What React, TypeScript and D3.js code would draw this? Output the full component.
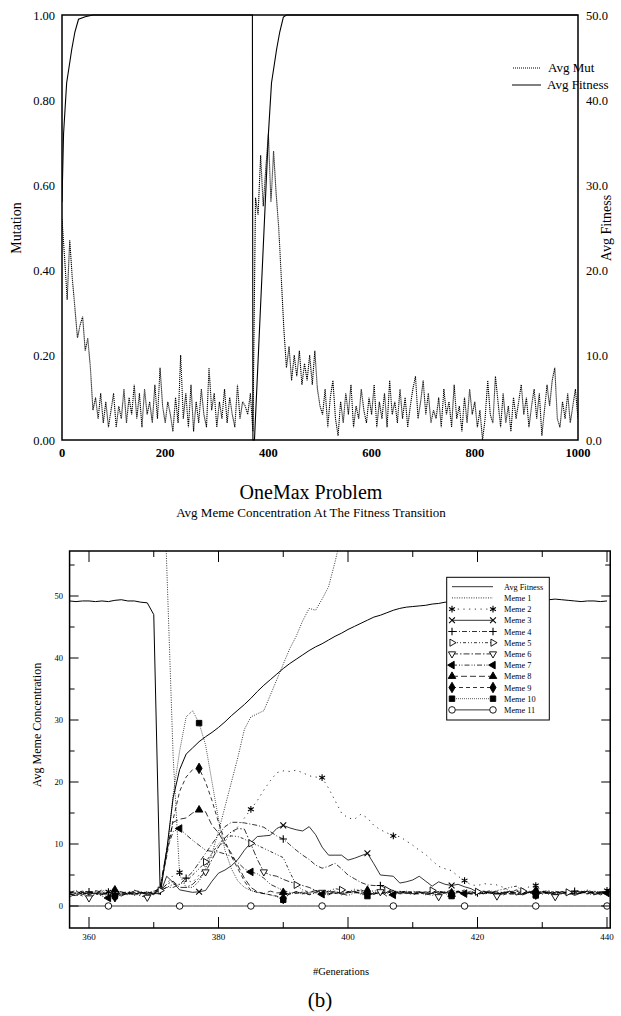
import React, { useRef, useEffect } from 'react';
import * as d3 from 'd3';

// ---------- top panel: avg mutation and avg fitness over 1000 generations
const mutGens = d3.range(0, 1001, 5);
const mutValues = [
  0.52, 0.43, 0.33, 0.47, 0.38, 0.31, 0.24, 0.27, 0.29, 0.21,
  0.24, 0.17, 0.07, 0.1, 0.05, 0.11, 0.04, 0.09, 0.03, 0.07,
  0.11, 0.03, 0.08, 0.05, 0.12, 0.04, 0.1, 0.06, 0.13, 0.05,
  0.11, 0.03, 0.12, 0.06, 0.09, 0.04, 0.13, 0.05, 0.17, 0.08,
  0.04, 0.09, 0.06, 0.02, 0.1, 0.04, 0.2, 0.05, 0.11, 0.03,
  0.13, 0.02, 0.09, 0.04, 0.12, 0.06, 0.03, 0.17, 0.07, 0.11,
  0.03, 0.09, 0.05, 0.12, 0.04, 0.1, 0.06, 0.03, 0.13, 0.05,
  0.09, 0.08, 0.06, 0.11, 0.02, 0.57, 0.53, 0.67, 0.55, 0.64,
  0.72, 0.56, 0.68, 0.58, 0.5, 0.38, 0.26, 0.17, 0.22, 0.14,
  0.2, 0.15, 0.21, 0.13, 0.18, 0.14, 0.2, 0.13, 0.21, 0.12,
  0.08, 0.06, 0.12, 0.03, 0.1, 0.14, 0.05, 0.01, 0.09, 0.04,
  0.11, 0.06, 0.13, 0.03, 0.08, 0.05, 0.12, 0.07, 0.04, 0.1,
  0.06, 0.13, 0.03, 0.09, 0.05, 0.11, 0.03, 0.14, 0.06, 0.09,
  0.04, 0.12, 0.05, 0.1, 0.03, 0.08, 0.12, 0.15, 0.05, 0.09,
  0.14, 0.06, 0.11, 0.04, 0.07, 0.05, 0.1, 0.03, 0.12, 0.06,
  0.09, 0.03, 0.13, 0.05, 0.08, 0.02, 0.1, 0.04, 0.12, 0.06,
  0.09, 0.03, 0.07, 0.0, 0.05, 0.14, 0.06, 0.04, 0.15, 0.09,
  0.03, 0.11, 0.04, 0.08, 0.02, 0.1, 0.05, 0.09, 0.13, 0.06,
  0.1, 0.03, 0.08, 0.12, 0.05, 0.11, 0.01, 0.07, 0.13, 0.08,
  0.14, 0.17, 0.05, 0.03, 0.09, 0.05, 0.11, 0.04, 0.08, 0.12,
  0.05,
];
const fitGensTop = [0, 3, 9, 19, 25, 32, 45, 60, 369, 370, 373, 400, 406, 416, 422, 429, 435, 1000];
const fitValuesTop = [28, 36, 42, 46, 48, 49.5, 49.8, 50, 50, 0, 0, 36, 42, 46, 48, 49.75, 50, 50];
const mutTicks = [0, 0.2, 0.4, 0.6, 0.8, 1.0];
const fitTicks = [0, 10, 20, 30, 40, 50];
const genTicksTop = [0, 200, 400, 600, 800, 1000];

// ---------- bottom panel: meme concentration around the transition
const memeGens = d3.range(357, 441);
const avgFitness = [
  49.2, 49.1, 49.2, 49.2, 49.1, 49.2, 49.1, 49.3, 49.4, 49.2, 49.2, 49.0, 48.9, 47.0,
  1.8, 9.0, 17.5, 22.0, 24.5, 25.5, 26.5, 27.3, 28.0, 28.8,
  29.7, 30.7, 31.6, 32.5, 33.5, 34.6, 35.6, 36.5, 37.4, 38.3,
  39.1, 39.8, 40.5, 41.2, 41.8, 42.3, 42.9, 43.5, 44.0, 44.6,
  45.1, 45.6, 46.1, 46.6, 46.9, 47.3, 47.7, 48.0, 48.2, 48.3,
  48.4, 48.5, 48.7, 48.8, 49.0, 49.0, 49.1, 49.1, 49.2, 49.2,
  49.2, 49.3, 49.3, 49.2, 49.2, 49.3, 49.4, 49.4, 49.4, 49.4,
  49.4, 49.5, 49.4, 49.3, 49.2, 49.1, 49.2, 49.2, 49.1, 49.2,
];
const meme1 = [
  86, 86, 86, 86, 86, 86, 86, 86, 86, 86, 86, 86, 86, 86,
  86, 55, 24, 5, 3, 3, 4, 6, 8.5, 12,
  16, 20, 24, 28.5, 30.5, 31, 31.5, 34, 36.5, 39,
  41.5, 43.5, 46, 48, 47.7, 49.5, 51.5, 55.5, 60, 66,
  72, 78, 83, 86, 88, 89, 90, 90, 91, 91,
  92, 92, 92, 93, 93, 93, 93, 94, 94, 94,
  94, 94, 94, 95, 95, 95, 95, 95, 95, 95,
  95, 95, 95, 95, 95, 95, 95, 95, 95, 95,
];
const meme2 = [
  2.3, 2.0, 2.5, 2.2, 1.9, 2.4, 2.3, 2.1, 1.8, 2.2, 2.6, 2.0, 2.3, 2.1,
  2.5, 3.5, 5.0, 5.4, 4.2, 3.8, 5.0, 6.5, 8.0, 9.5,
  10.5, 11.5, 12.8, 14.2, 15.6, 17.0, 18.7, 20.2, 21.5, 21.8,
  21.7, 21.9, 21.5, 21.0, 20.8, 20.7, 19.0, 17.0, 15.0, 14.2,
  14.0, 14.8, 14.2, 13.0, 12.3, 11.8, 11.3, 11.2, 10.5, 9.8,
  9.0, 8.3, 7.3, 6.4, 6.0, 5.7, 4.8, 4.1, 3.4, 3.3,
  3.6, 3.5, 3.4, 3.0, 2.4, 2.3, 2.7, 3.1, 3.3, 2.5,
  1.9, 2.2, 2.0, 1.8, 2.3, 2.1, 1.9, 2.4, 2.2, 2.5,
];
const meme3 = [
  2.0, 1.7, 2.2, 1.9, 2.1, 1.8, 2.3, 2.0, 1.6, 2.1, 1.9, 2.2, 1.8, 2.0,
  2.0, 4.8, 3.8, 2.6, 2.4, 2.2, 2.3, 2.5, 4.0, 5.3,
  5.8, 6.5, 7.5, 9.0, 10.2, 11.2, 11.3, 11.4, 12.5, 13.0,
  12.6, 12.3, 12.1, 12.8, 11.5, 9.5, 8.2, 8.2, 8.2, 7.4,
  7.7, 8.1, 8.5, 6.8, 5.0, 4.9, 4.8, 3.7, 3.9, 4.2,
  4.8, 4.0, 3.2, 3.9, 3.5, 3.3, 3.5, 3.1, 2.8, 2.2,
  2.0, 2.3, 1.9, 2.1, 2.4, 1.8, 2.0, 2.2, 1.9, 2.1,
  2.3, 1.8, 2.0, 2.2, 1.7, 2.1, 2.4, 1.9, 2.0, 2.2,
];
const meme4 = [
  2.2, 2.5, 1.9, 2.3, 2.0, 2.6, 2.1, 2.4, 2.2, 1.9, 2.5, 2.3, 2.0, 2.4,
  2.5, 3.0, 3.0, 3.5, 4.5, 5.5, 7.0, 8.5, 10.0, 11.5,
  12.8, 13.5, 13.5, 13.4, 13.2, 13.0, 12.7, 12.0, 11.3, 10.8,
  9.9, 9.0, 8.2, 7.5, 6.6, 6.1, 6.4, 6.9, 6.0, 5.0,
  4.4, 3.8, 3.4, 3.3, 3.3, 2.8, 2.5, 2.2, 2.4, 2.0,
  2.3, 2.1, 2.5, 2.0, 2.2, 2.6, 2.3, 1.9, 2.4, 2.1,
  2.2, 2.5, 2.0, 2.3, 2.1, 2.6, 2.2, 2.4, 2.0, 2.3,
  2.5, 2.1, 2.3, 2.0, 2.4, 2.2, 2.6, 2.1, 2.3, 2.4,
];
const meme5 = [
  1.8, 2.1, 1.6, 2.0, 2.3, 1.9, 1.7, 2.2, 2.0, 1.8, 2.1, 1.9, 2.2, 2.0,
  2.5, 3.0, 3.5, 3.5, 4.0, 5.0, 6.0, 7.1, 8.5, 10.0,
  11.0, 11.3, 11.2, 10.8, 10.1, 9.8, 9.3, 8.8, 8.3, 7.8,
  5.5, 3.4, 2.6, 2.2, 2.5, 2.0, 2.4, 2.8, 2.6, 2.3,
  2.7, 2.4, 2.1, 2.5, 2.2, 2.6, 2.0, 2.3, 2.1, 2.4,
  2.2, 2.0, 2.5, 2.3, 2.1, 2.4, 2.2, 2.6, 2.0, 2.3,
  2.4, 2.1, 2.5, 2.7, 3.0, 3.2, 2.4, 2.2, 2.0, 2.3,
  2.1, 2.4, 2.0, 2.2, 2.5, 2.3, 2.1, 2.4, 2.2, 2.0,
];
const meme6 = [
  2.0, 1.6, 2.2, 1.3, 1.9, 2.1, 1.7, 2.3, 1.8, 2.0, 2.2, 1.6, 1.4, 2.1,
  2.5, 3.5, 4.0, 3.0, 3.0, 3.5, 4.5, 5.5, 7.5, 9.5,
  11.0, 12.0, 12.5, 12.4, 10.0, 7.5, 5.5, 5.0, 4.8, 4.3,
  3.9, 3.6, 3.3, 3.0, 2.5, 2.2, 2.4, 2.0, 2.3, 2.1,
  2.4, 2.6, 2.2, 1.9, 2.3, 1.6, 2.1, 2.4, 2.0, 2.2,
  2.3, 1.9, 2.1, 1.5, 2.2, 2.0, 2.4, 1.8, 2.1, 2.3,
  1.9, 2.2, 1.6, 2.0, 2.3, 2.1, 1.8, 2.2, 2.0, 2.4,
  2.1, 1.5, 2.0, 2.3, 1.9, 2.2, 2.0, 2.4, 1.8, 2.1,
];
const meme7 = [
  1.5, 1.9, 2.2, 1.8, 2.0, 1.6, 1.3, 2.1, 1.9, 2.2, 1.7, 2.0, 2.3, 1.8,
  3.0, 9.0, 12.0, 12.5, 11.5, 10.6, 9.8, 9.0, 8.8, 8.7,
  8.4, 8.0, 7.0, 6.0, 5.5, 5.2, 4.5, 3.5, 3.0, 2.5,
  2.2, 2.0, 2.3, 1.8, 2.1, 1.9, 2.2, 2.4, 2.0, 1.7,
  2.1, 2.3, 1.9, 2.2, 2.0, 2.4, 1.8, 2.1, 2.3, 1.9,
  2.2, 2.0, 1.7, 2.1, 2.3, 1.9, 2.2, 2.0, 2.4, 1.8,
  2.1, 2.3, 1.9, 2.2, 2.0, 1.8, 2.2, 2.1, 2.3, 1.9,
  2.2, 2.0, 2.3, 1.9, 2.1, 2.4, 2.0, 1.8, 2.2, 2.1,
];
const meme8 = [
  2.3, 2.0, 2.4, 2.1, 2.5, 2.2, 1.9, 2.6, 2.3, 2.0, 2.4, 2.2, 2.1, 2.3,
  3.0, 9.0, 13.5, 14.0, 14.2, 15.0, 15.5, 15.2, 13.0, 11.8,
  10.0, 8.5, 6.5, 4.5, 3.0, 2.3, 2.0, 2.4, 2.1, 2.2,
  1.9, 2.3, 2.0, 2.2, 2.5, 2.1, 1.8, 2.3, 2.0, 2.2,
  2.4, 2.0, 2.2, 1.9, 2.3, 2.1, 2.5, 2.0, 2.2, 1.8,
  2.1, 2.3, 2.0, 2.4, 2.2, 1.9, 2.3, 2.1, 2.0, 2.2,
  2.3, 2.0, 2.4, 2.1, 1.9, 2.2, 2.0, 2.3, 2.5, 2.1,
  2.0, 2.2, 2.4, 1.9, 2.1, 2.3, 2.0, 2.2, 2.1, 2.4,
];
const meme9 = [
  2.1, 2.4, 1.9, 2.2, 2.0, 2.3, 1.7, 1.5, 2.1, 2.3, 1.9, 2.2, 2.0, 2.1,
  3.0, 8.0, 14.0, 18.5, 20.8, 22.0, 22.2, 20.0, 17.0, 13.5,
  10.5, 8.0, 6.0, 4.0, 2.5, 2.2, 2.0, 1.8, 1.6, 1.2,
  2.0, 2.3, 2.1, 1.9, 2.2, 2.4, 2.0, 2.1, 1.8, 2.3,
  2.2, 2.0, 2.4, 2.1, 1.9, 2.3, 2.0, 2.2, 2.4, 2.1,
  1.9, 2.2, 2.0, 2.3, 2.1, 2.0, 2.4, 2.2, 1.9, 2.1,
  2.3, 2.0, 2.2, 1.8, 2.1, 2.4, 2.0, 2.2, 1.9, 2.3,
  2.1, 2.0, 2.3, 2.2, 1.9, 2.1, 2.4, 2.0, 2.2, 2.1,
];
const meme10 = [
  2.0, 2.2, 1.8, 2.1, 2.3, 1.9, 2.0, 1.6, 2.2, 2.0, 1.8, 2.1, 2.3, 1.9,
  3.0, 8.0, 18.0, 25.0, 30.5, 31.5, 29.5, 26.0, 20.0, 14.0,
  9.0, 6.0, 4.0, 3.0, 2.5, 2.2, 2.0, 1.8, 1.5, 1.0,
  2.0, 2.2, 1.9, 2.1, 2.3, 2.0, 1.8, 2.2, 2.0, 2.1,
  2.3, 1.9, 1.6, 2.1, 2.2, 2.0, 2.4, 1.9, 2.1, 2.0,
  2.2, 1.8, 2.1, 2.3, 2.0, 1.6, 2.2, 1.9, 2.1, 2.3,
  2.0, 2.2, 1.9, 2.1, 2.4, 2.0, 1.8, 2.2, 1.7, 2.1,
  2.3, 2.0, 2.2, 1.9, 2.1, 2.0, 2.4, 2.2, 1.9, 2.1,
];
const meme11 = [
  0, 0, 0, 0, 0, 0, 0, 0, 0, 0, 0, 0, 0, 0,
  0, 0, 0, 0, 0, 0, 0, 0, 0, 0,
  0, 0, 0, 0, 0, 0, 0, 0, 0, 0,
  0, 0, 0, 0, 0, 0, 0, 0, 0, 0,
  0, 0, 0, 0, 0, 0, 0, 0, 0, 0,
  0, 0, 0, 0, 0, 0, 0, 0, 0, 0,
  0, 0, 0, 0, 0, 0, 0, 0, 0, 0,
  0, 0, 0, 0, 0, 0, 0, 0, 0, 0,
];
const seriesNames = ['Avg Fitness', 'Meme 1', 'Meme 2', 'Meme 3', 'Meme 4', 'Meme 5', 'Meme 6', 'Meme 7', 'Meme 8', 'Meme 9', 'Meme 10', 'Meme 11'];
const seriesValues = [avgFitness, meme1, meme2, meme3, meme4, meme5, meme6, meme7, meme8, meme9, meme10, meme11];
const memeYTicks = [0, 10, 20, 30, 40, 50];
const memeXTicks = [360, 380, 400, 420, 440];

// line dash + marker style for each series (same order as seriesNames)
const seriesStyle = [
  { dash: null, marker: null, start: 0, every: 0 },
  { dash: '1,1.4', marker: null, start: 0, every: 0 },
  { dash: '1.2,4.5', marker: 'asterisk', start: 363, every: 11 },
  { dash: null, marker: 'cross', start: 364, every: 13 },
  { dash: '5,2,1,2', marker: 'plus', start: 360, every: 15 },
  { dash: '3,2,1,2,1,2', marker: 'triRight', start: 364, every: 7 },
  { dash: '6,2,1.5,2', marker: 'triDown', start: 360, every: 9 },
  { dash: '5,2,1,1.5,1,2', marker: 'triLeft', start: 363, every: 11 },
  { dash: '6,3', marker: 'triUp', start: 364, every: 13 },
  { dash: '4,3', marker: 'diamond', start: 364, every: 13 },
  { dash: '0.8,1.2', marker: 'square', start: 364, every: 13 },
  { dash: null, marker: 'circle', start: 363, every: 11 },
];

const markerShapes: Record<string, { sym: d3.SymbolType; size: number; rot: number; filled: boolean; stroke?: boolean }> = {
  asterisk: { sym: d3.symbolAsterisk, size: 32, rot: 0, filled: false, stroke: true },
  cross: { sym: d3.symbolX, size: 24, rot: 0, filled: false, stroke: true },
  plus: { sym: d3.symbolPlus, size: 20, rot: 0, filled: false, stroke: true },
  triRight: { sym: d3.symbolTriangle, size: 22, rot: 90, filled: false },
  triDown: { sym: d3.symbolTriangle, size: 22, rot: 180, filled: false },
  triLeft: { sym: d3.symbolTriangle, size: 25, rot: -90, filled: true },
  triUp: { sym: d3.symbolTriangle, size: 25, rot: 0, filled: true },
  diamond: { sym: d3.symbolDiamond, size: 32, rot: 0, filled: true },
  square: { sym: d3.symbolSquare, size: 30, rot: 0, filled: true },
  circle: { sym: d3.symbolCircle, size: 34, rot: 0, filled: false },
};

const FONT = "'Liberation Serif', 'Times New Roman', serif";

function drawMarker(g: d3.Selection<SVGGElement, unknown, null, undefined>, type: string, x: number, y: number) {
  const m = markerShapes[type];
  g.append('path')
    .attr('d', d3.symbol(m.sym, m.size)() as string)
    .attr('transform', `translate(${x},${y}) rotate(${m.rot})`)
    .attr('fill', m.stroke ? 'none' : m.filled ? '#000' : '#fff')
    .attr('stroke', '#000')
    .attr('stroke-width', m.stroke ? 1.1 : 0.9);
}

function App() {
  const svgRef = useRef<SVGSVGElement | null>(null);

  useEffect(() => {
    const svg = d3.select(svgRef.current);
    svg.selectAll('*').remove();
    svg.attr('font-family', FONT);

    // ================= top panel =================
    const xT = d3.scaleLinear().domain([0, 1000]).range([62, 578]);
    const yMut = d3.scaleLinear().domain([0, 1]).range([440, 15]);
    const yFit = d3.scaleLinear().domain([0, 50]).range([440, 15]);

    const top = svg.append('g');
    top.append('clipPath').attr('id', 'clipTop').append('rect')
      .attr('x', 62).attr('y', 14).attr('width', 516).attr('height', 427);

    const mutData = mutGens.map((g, i) => ({ g, v: mutValues[i] }));
    const fitData = fitGensTop.map((g, i) => ({ g, v: fitValuesTop[i] }));

    top.append('path')
      .datum(mutData)
      .attr('clip-path', 'url(#clipTop)')
      .attr('d', d3.line<{ g: number; v: number }>().x((d) => xT(d.g)).y((d) => yMut(d.v)))
      .attr('fill', 'none').attr('stroke', '#000').attr('stroke-width', 1.1)
      .attr('stroke-dasharray', '1.2,0.8');

    top.append('path')
      .datum(fitData)
      .attr('clip-path', 'url(#clipTop)')
      .attr('d', d3.line<{ g: number; v: number }>().x((d) => xT(d.g)).y((d) => yFit(d.v)))
      .attr('fill', 'none').attr('stroke', '#000').attr('stroke-width', 1.1);

    top.append('rect').attr('x', 62).attr('y', 15).attr('width', 516).attr('height', 425)
      .attr('fill', 'none').attr('stroke', '#000').attr('stroke-width', 1.5);

    top.selectAll('.mutLab').data(mutTicks).join('text')
      .attr('x', 55).attr('y', (d) => yMut(d) + 4.5)
      .attr('text-anchor', 'end').attr('font-size', 12.5)
      .text((d) => d3.format('.2f')(d));
    top.selectAll('.fitLab').data(fitTicks).join('text')
      .attr('x', 586).attr('y', (d) => yFit(d) + 4.5)
      .attr('font-size', 12.5)
      .text((d) => d3.format('.1f')(d));
    top.selectAll('.genLab').data(genTicksTop).join('text')
      .attr('x', (d) => xT(d)).attr('y', 457)
      .attr('text-anchor', 'middle').attr('font-size', 12.5).attr('font-weight', 'bold')
      .text((d) => d);

    top.append('text').attr('transform', 'translate(21,228) rotate(-90)')
      .attr('text-anchor', 'middle').attr('font-size', 14).text('Mutation');
    top.append('text').attr('transform', 'translate(611,228) rotate(-90)')
      .attr('text-anchor', 'middle').attr('font-size', 14).text('Avg Fitness');

    // legend
    top.append('line').attr('x1', 513).attr('x2', 540).attr('y1', 68).attr('y2', 68)
      .attr('stroke', '#000').attr('stroke-dasharray', '1,1');
    top.append('line').attr('x1', 512).attr('x2', 541).attr('y1', 85).attr('y2', 85)
      .attr('stroke', '#000');
    top.append('text').attr('x', 548).attr('y', 72).attr('font-size', 13).text('Avg Mut');
    top.append('text').attr('x', 547).attr('y', 89).attr('font-size', 13).text('Avg Fitness');

    // ================= titles =================
    svg.append('text').attr('x', 311).attr('y', 499).attr('text-anchor', 'middle')
      .attr('font-size', 20).text('OneMax Problem');
    svg.append('text').attr('x', 311).attr('y', 517).attr('text-anchor', 'middle')
      .attr('font-size', 13).text('Avg Meme Concentration At The Fitness Transition');

    // ================= bottom panel =================
    const xB = d3.scaleLinear().domain([360, 440]).range([89, 607]);
    const yB = d3.scaleLinear().domain([0, 50]).range([906, 596]);
    const pL = xB(357), pR = xB(440.5), pT = 551, pB = 928;

    const bot = svg.append('g');
    bot.append('clipPath').attr('id', 'clipBot').append('rect')
      .attr('x', pL).attr('y', pT).attr('width', pR - pL).attr('height', pB - pT);

    const lineB = d3.line<number>().x((d, i) => xB(memeGens[i])).y((d) => yB(d));
    const plotG = bot.append('g').attr('clip-path', 'url(#clipBot)');

    seriesValues.forEach((vals, si) => {
      const st = seriesStyle[si];
      plotG.append('path')
        .datum(vals)
        .attr('d', lineB)
        .attr('fill', 'none').attr('stroke', '#000')
        .attr('stroke-width', si === 0 ? 1 : 0.8)
        .attr('stroke-dasharray', st.dash);
    });
    seriesValues.forEach((vals, si) => {
      const st = seriesStyle[si];
      if (!st.marker) return;
      const mg = plotG.append('g');
      d3.range(st.start, 441, st.every).forEach((gen) => {
        const i = memeGens.indexOf(gen);
        if (i >= 0) drawMarker(mg, st.marker as string, xB(gen), yB(vals[i]));
      });
    });

    // frame
    bot.append('rect').attr('x', pL).attr('y', pT).attr('width', pR - pL).attr('height', pB - pT)
      .attr('fill', 'none').attr('stroke', '#000').attr('stroke-width', 1.5);

    // ticks
    d3.range(360, 441, 10).forEach((g) => {
      const len = g % 20 === 0 ? 11 : 6;
      bot.append('line').attr('x1', xB(g)).attr('x2', xB(g)).attr('y1', pB).attr('y2', pB - len)
        .attr('stroke', '#000').attr('stroke-width', 1);
      bot.append('line').attr('x1', xB(g)).attr('x2', xB(g)).attr('y1', pT).attr('y2', pT + len)
        .attr('stroke', '#000').attr('stroke-width', 1);
    });
    d3.range(0, 56, 5).forEach((v) => {
      const len = v % 10 === 0 ? 9 : 5;
      bot.append('line').attr('x1', pL).attr('x2', pL + len).attr('y1', yB(v)).attr('y2', yB(v))
        .attr('stroke', '#000').attr('stroke-width', 1);
      bot.append('line').attr('x1', pR).attr('x2', pR - len).attr('y1', yB(v)).attr('y2', yB(v))
        .attr('stroke', '#000').attr('stroke-width', 1);
    });

    bot.selectAll('.yLab').data(memeYTicks).join('text')
      .attr('x', 63).attr('y', (d) => yB(d) + 3)
      .attr('text-anchor', 'end').attr('font-size', 8.5)
      .text((d) => d);
    bot.selectAll('.xLab').data(memeXTicks).join('text')
      .attr('x', (d) => xB(d)).attr('y', 940)
      .attr('text-anchor', 'middle').attr('font-size', 9)
      .text((d) => d);

    bot.append('text').attr('transform', 'translate(41,725) rotate(-90)')
      .attr('text-anchor', 'middle').attr('font-size', 12).text('Avg Meme Concentration');
    bot.append('text').attr('x', 341).attr('y', 975).attr('text-anchor', 'middle')
      .attr('font-size', 10.5).text('#Generations');
    bot.append('text').attr('x', 320).attr('y', 1007).attr('text-anchor', 'middle')
      .attr('font-size', 21).text('(b)');

    // legend box
    const lg = bot.append('g');
    lg.append('rect').attr('x', 446.7).attr('y', 577.3).attr('width', 102.6).attr('height', 142.7)
      .attr('fill', '#fff').attr('stroke', '#000').attr('stroke-width', 1);
    seriesNames.forEach((name, si) => {
      const st = seriesStyle[si];
      const y = 586.7 + si * 11.2;
      lg.append('line').attr('x1', 452).attr('x2', 493).attr('y1', y).attr('y2', y)
        .attr('stroke', '#000').attr('stroke-width', 0.8)
        .attr('stroke-dasharray', st.dash);
      if (st.marker) {
        drawMarker(lg, st.marker, 452, y);
        drawMarker(lg, st.marker, 493, y);
      }
      lg.append('text').attr('x', 504).attr('y', y + 3).attr('font-size', 8.3).text(name);
    });
  }, []);

  return (
    <svg ref={svgRef} width={621} height={1016} style={{ position: 'absolute', left: 0, top: 0, background: '#fff' }} />
  );
}

export default App;
